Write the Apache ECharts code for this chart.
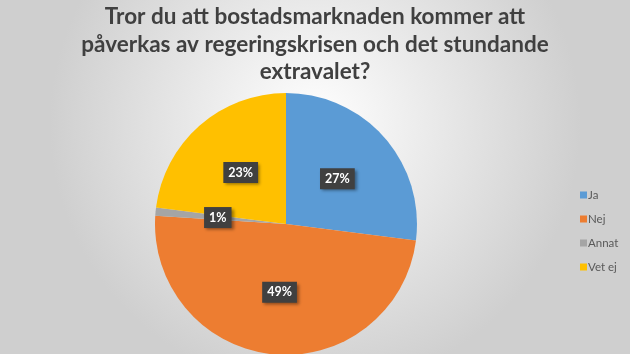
<!DOCTYPE html>
<html>
<head>
<meta charset="utf-8">
<script src="https://cdn.jsdelivr.net/npm/echarts@6/dist/echarts.min.js"></script>
<style>
  html, body { margin: 0; padding: 0; }
  #main { width: 630px; height: 354px; }
</style>
</head>
<body>
<div id="main"></div>
<script>
const categories = ['Ja', 'Nej', 'Annat', 'Vet ej']
const values = [27, 49, 1, 23]
const colors = ['#5b9bd5', '#ed7d31', '#a5a5a5', '#ffc000']

const chart = echarts.init(document.getElementById('main'))

const option = {
  backgroundColor: {
    type: 'radial',
    x: 0.5,
    y: 0.35,
    r: 0.75,
    colorStops: [
      { offset: 0, color: '#ffffff' },
      { offset: 1, color: '#cfcfcf' }
    ]
  },
  title: {
    text: 'Tror du att bostadsmarknaden kommer att\npåverkas av regeringskrisen och det stundande\nextravalet?',
    left: 'center',
    top: -2,
    textStyle: {
      fontFamily: 'Lato',
      fontWeight: 'bold',
      fontSize: 22.5,
      lineHeight: 27.5,
      color: '#404040'
    }
  },
  legend: {
    orient: 'vertical',
    left: 575,
    top: 183,
    icon: 'rect',
    itemWidth: 7,
    itemHeight: 7,
    itemGap: 10,
    data: categories,
    textStyle: {
      fontFamily: 'Lato',
      fontSize: 11.5,
      lineHeight: 14,
      color: '#595959',
      padding: [0, 0, 0, -4]
    }
  },
  series: [
    {
      type: 'pie',
      center: [286, 224],
      radius: 131,
      startAngle: 90,
      clockwise: true,
      silent: true,
      label: {
        show: true,
        position: 'inside',
        formatter: '{c}%',
        fontFamily: 'Lato',
        fontWeight: 'bold',
        fontSize: 12.5,
        color: '#ffffff',
        backgroundColor: '#404040',
        padding: [4, 5, 4, 5],
        shadowColor: 'rgba(0,0,0,0.4)',
        shadowBlur: 3,
        shadowOffsetX: 2,
        shadowOffsetY: 2
      },
      labelLine: { show: false },
      data: categories.map((name, i) => ({
        name: name,
        value: values[i],
        itemStyle: { color: colors[i] }
      }))
    }
  ]
}

chart.setOption(option)
</script>
</body>
</html>
